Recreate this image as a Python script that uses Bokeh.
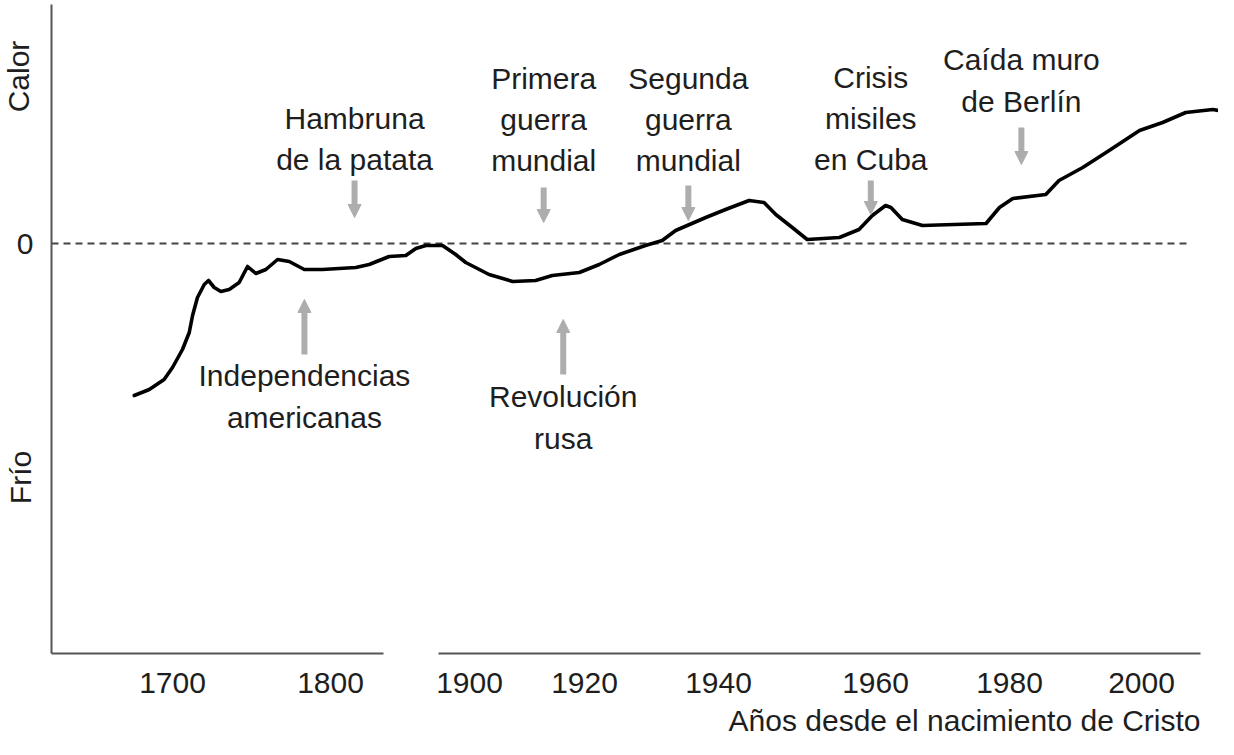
import numpy as np
from bokeh.plotting import figure
from bokeh.models import Range1d, FixedTicker, Label, Arrow, NormalHead, ColumnDataSource
from bokeh.core.properties import value
from bokeh.embed import file_html
from bokeh.resources import INLINE

# ---------------- data ----------------
years = [1675.8, 1685.3, 1694.7, 1700.0, 1706.3, 1710.6, 1712.7, 1715.8, 1720.1, 1722.8,
         1726.4, 1730.6, 1735.9, 1742.2, 1747.5, 1752.7, 1759.1, 1766.5, 1773.9, 1783.4,
         1794.9, 1818.2, 1827.8, 1842.2, 1854.2, 1861.4, 1868.6, 1880.6, 1890.1, 1897.3,
         1903.4, 1907.5, 1911.5, 1914.4, 1919.1, 1922.2, 1925.2, 1929.1, 1931.6, 1933.6,
         1938.1, 1940.9, 1943.9, 1945.8, 1947.3, 1949.4, 1951.3, 1955.4, 1957.9, 1959.6,
         1961.5, 1962.3, 1964.0, 1967.0, 1976.5, 1978.5, 1980.5, 1985.5, 1987.5, 1991.1,
         1995.1, 1999.7, 2003.2, 2006.7, 2010.8, 2012.6]
temperature = [-1.52, -1.46, -1.36, -1.24, -1.06, -0.89, -0.72, -0.54, -0.41, -0.37,
               -0.44, -0.48, -0.46, -0.39, -0.23, -0.30, -0.26, -0.16, -0.18, -0.26,
               -0.26, -0.24, -0.21, -0.13, -0.12, -0.05, -0.02, -0.02, -0.11, -0.19,
               -0.31, -0.38, -0.37, -0.32, -0.29, -0.21, -0.11, -0.02, 0.03, 0.13,
               0.26, 0.34, 0.43, 0.41, 0.29, 0.16, 0.04, 0.06, 0.14, 0.28,
               0.38, 0.36, 0.24, 0.18, 0.20, 0.36, 0.45, 0.49, 0.63, 0.76,
               0.93, 1.13, 1.21, 1.31, 1.34, 1.32]

tick_years = [1700, 1800, 1900, 1920, 1940, 1960, 1980, 2000]
tick_labels = ["1700", "1800", "1900", "1920", "1940", "1960", "1980", "2000"]

event_labels = ["Independencias\namericanas", "Hambruna\nde la patata",
                "Primera\nguerra\nmundial", "Revolución\nrusa",
                "Segunda\nguerra\nmundial", "Crisis\nmisiles\nen Cuba",
                "Caída muro\nde Berlín"]
event_years = [1783.5, 1817.3, 1912.9, 1916.3, 1935.5, 1959.4, 1981.8]

# ---------------- broken (hand-drawn) time scale ----------------
tick_pos = [180, 338, 477, 592, 726, 883, 1017, 1149]


def to_axis(yrs):
    yrs = np.asarray(yrs, dtype=float)
    ty = np.array(tick_years, dtype=float)
    tp = np.array(tick_pos, dtype=float)
    out = np.interp(yrs, ty, tp)
    lo = yrs < ty[0]
    hi = yrs > ty[-1]
    out[lo] = tp[0] + (yrs[lo] - ty[0]) * (tp[1] - tp[0]) / (ty[1] - ty[0])
    out[hi] = tp[-1] + (yrs[hi] - ty[-1]) * (tp[-1] - tp[-2]) / (ty[-1] - ty[-2])
    return out


# ---------------- layout / style ----------------
FONT = "Liberation Sans"
FS = "30px"
TXT = "#1e1e1e"
AX = "#555555"
ARR = "#adadad"
X_AXIS_Y = -4.10   # level of the time axis
Y_AXIS_X = 59      # position of the vertical axis

text_y = [-1.53, 1.045, 1.24, -1.74, 1.24, 1.25, 1.63]
arrow_y0 = [-1.11, 0.63, 0.56, -1.31, 0.58, 0.63, 1.16]
arrow_y1 = [-0.56, 0.26, 0.21, -0.76, 0.23, 0.29, 0.79]

p = figure(width=1218, height=739, output_backend="svg", toolbar_location=None,
           x_range=Range1d(8, 1226), y_range=Range1d(-4.96, 2.43),
           min_border_left=0, min_border_right=0, min_border_top=0, min_border_bottom=0)
p.outline_line_color = None
p.grid.visible = False
p.background_fill_color = "white"
p.border_fill_color = "white"

# x axis: labels only (baseline drawn broken below)
p.xaxis.fixed_location = X_AXIS_Y
p.xaxis.ticker = FixedTicker(ticks=tick_pos)
p.xaxis.major_label_overrides = {t: l for t, l in zip(tick_pos, tick_labels)}
p.xaxis.axis_line_color = None
p.xaxis.major_tick_line_color = None
p.xaxis.minor_tick_line_color = None
p.xaxis.major_tick_out = 0
p.xaxis.major_tick_in = 0
p.xaxis.major_label_text_font = FONT
p.xaxis.major_label_text_font_size = FS
p.xaxis.major_label_text_color = TXT
p.xaxis.major_label_standoff = 19

p.yaxis.fixed_location = Y_AXIS_X
p.yaxis.bounds = (X_AXIS_Y, 2.39)
p.yaxis.ticker = FixedTicker(ticks=[0])
p.yaxis.major_label_overrides = {0: "0"}
p.yaxis.axis_line_color = AX
p.yaxis.axis_line_width = 2
p.yaxis.major_tick_line_color = None
p.yaxis.minor_tick_line_color = None
p.yaxis.major_tick_out = 0
p.yaxis.major_tick_in = 0
p.yaxis.major_label_text_font = FONT
p.yaxis.major_label_text_font_size = FS
p.yaxis.major_label_text_color = TXT
p.yaxis.major_label_standoff = 18

# broken x-axis baseline
p.segment(x0=[Y_AXIS_X, 446], y0=[X_AXIS_Y, X_AXIS_Y], x1=[391, 1208], y1=[X_AXIS_Y, X_AXIS_Y],
          line_color=AX, line_width=2)

# zero reference line
p.segment(x0=[Y_AXIS_X], y0=[0], x1=[float(to_axis([2007.0])[0])], y1=[0],
          line_color="#444444", line_width=2, line_dash="7 5")

# temperature curve
p.line(to_axis(years), temperature, line_color="black", line_width=3.6,
       line_join="round", line_cap="round")

# event arrows
ex = to_axis(event_years)
arrow_src = ColumnDataSource(dict(x0=ex, y0=arrow_y0, x1=ex, y1=arrow_y1))
p.add_layout(Arrow(end=NormalHead(size=13, fill_color=ARR, line_color=ARR, line_width=1),
                   x_start="x0", y_start="y0", x_end="x1", y_end="y1",
                   line_color=ARR, line_width=6, source=arrow_src))

# event texts
p.text(x=ex, y=text_y, text=event_labels, text_font=value(FONT), text_font_size=FS,
       text_color=TXT, text_align="center", text_baseline="middle", text_line_height=1.25)

# side labels and axis title
p.add_layout(Label(x=26, y=1.67, text="Calor", angle=np.pi / 2, text_align="center",
                   text_baseline="middle", text_font=FONT, text_font_size=FS,
                   text_color=TXT))
p.add_layout(Label(x=28, y=-2.34, text="Frío", angle=np.pi / 2, text_align="center",
                   text_baseline="middle", text_font=FONT, text_font_size=FS,
                   text_color=TXT))
p.add_layout(Label(x=1208, y=-4.77, text="Años desde el nacimiento de Cristo",
                   text_align="right", text_baseline="middle", text_font=FONT,
                   text_font_size=FS, text_color=TXT))

open("out.html", "w").write(file_html(p, INLINE))
